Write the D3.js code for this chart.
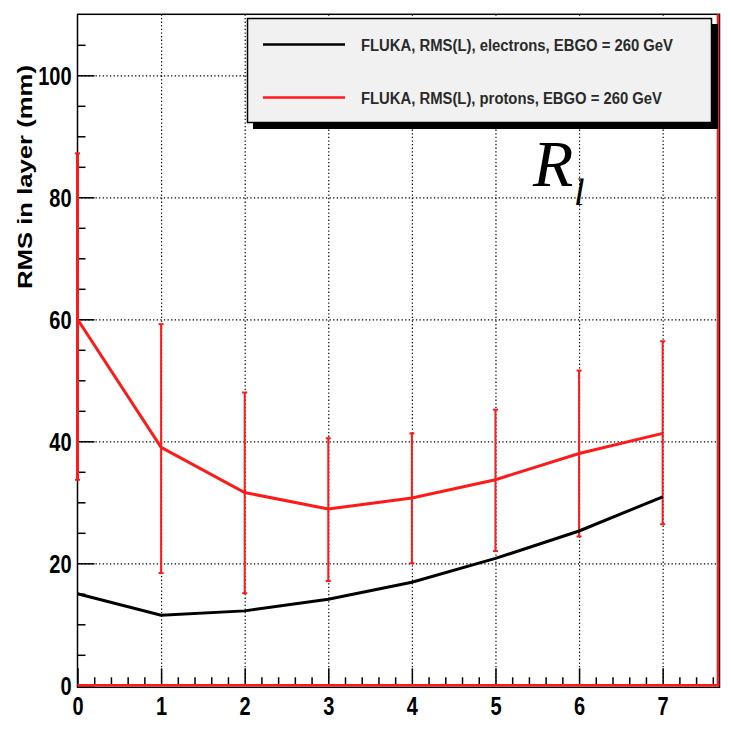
<!DOCTYPE html>
<html lang="en">
<head>
<meta charset="UTF-8">
<title>RMS in layer</title>
<script src="https://d3js.org/d3.v7.min.js"></script>
<style>
    body { margin: 0; background: #fff; }
    svg text { font-family: "Liberation Sans", Arial, sans-serif; }
</style>
</head>
<body>
<svg width="731" height="731"></svg>
<script>
    // data
    const layers = [0, 1, 2, 3, 4, 5, 6, 7];
    const electrons = [15, 11.5, 12.2, 14.1, 16.9, 20.8, 25.3, 30.9];
    const protons = [60, 39.0, 31.6, 28.9, 30.7, 33.7, 38.0, 41.3];
    const protonLow = [33.7, 18.4, 15.1, 17.1, 20.0, 22.0, 24.4, 26.4];
    const protonHigh = [87.2, 59.2, 48.0, 40.5, 41.3, 45.2, 51.6, 56.4];
    const xTicks = [0, 1, 2, 3, 4, 5, 6, 7];
    const yTicks = [0, 20, 40, 60, 80, 100];
    const legendLabels = [
        "FLUKA, RMS(L), electrons, EBGO = 260 GeV",
        "FLUKA, RMS(L), protons, EBGO = 260 GeV"
    ];

    const svg = d3.select("svg");
    const mLeft = 77.5, mRight = 719.5, mTop = 14.3, mBottom = 685.3;

    const x = d3.scaleLinear().domain([0, 7.68]).range([mLeft, mRight]);
    const y = d3.scaleLinear().domain([0, 110]).range([mBottom, mTop]);

    // grid (dotted)
    const grid = svg.append("g");
    grid.append("g")
        .attr("transform", `translate(0,${mBottom})`)
        .call(d3.axisBottom(x).tickValues(xTicks.filter(d => d > 0)).tickSize(-(mBottom - mTop)).tickFormat(""))
        .call(g => g.select(".domain").remove());
    grid.append("g")
        .attr("transform", `translate(${mLeft},0)`)
        .call(d3.axisLeft(y).tickValues(yTicks.filter(d => d > 0)).tickSize(-(mRight - mLeft)).tickFormat(""))
        .call(g => g.select(".domain").remove());
    grid.selectAll("line")
        .attr("stroke", "#000")
        .attr("stroke-width", 1.2)
        .attr("stroke-dasharray", "1.3,2.3");

    // minor ticks
    const xMinor = d3.range(0, 7.7, 0.2).filter(v => Math.abs(v - Math.round(v)) > 0.01);
    const yMinor = d3.range(5, 110, 5).filter(v => v % 20 !== 0);
    svg.append("g")
        .attr("transform", `translate(0,${mBottom})`)
        .call(d3.axisBottom(x).tickValues(xMinor).tickSize(-8).tickFormat(""))
        .call(g => g.select(".domain").remove())
        .selectAll("line").attr("stroke", "#000").attr("stroke-width", 1.5);
    svg.append("g")
        .attr("transform", `translate(${mLeft},0)`)
        .call(d3.axisLeft(y).tickValues(yMinor).tickSize(-8).tickFormat(""))
        .call(g => g.select(".domain").remove())
        .selectAll("line").attr("stroke", "#000").attr("stroke-width", 1.5);

    // major ticks + labels
    const xAxis = svg.append("g")
        .attr("transform", `translate(0,${mBottom})`)
        .call(d3.axisBottom(x).tickValues(xTicks).tickSize(-17).tickPadding(9).tickFormat(d3.format("d")))
        .call(g => g.select(".domain").remove());
    const yAxis = svg.append("g")
        .attr("transform", `translate(${mLeft},0)`)
        .call(d3.axisLeft(y).tickValues(yTicks).tickSize(-17).tickPadding(6).tickFormat(d3.format("d")))
        .call(g => g.select(".domain").remove());
    [xAxis, yAxis].forEach(a => {
        a.selectAll("line").attr("stroke", "#000").attr("stroke-width", 1.5);
        a.selectAll("text")
            .attr("fill", "#000")
            .style("font-size", "20px")
            .style("font-weight", "bold")
            .style("font-family", "'Liberation Sans', Arial, sans-serif");
    });
    xAxis.selectAll("text").attr("dy", "0.71em").attr("transform", "scale(1,1.3)");
    yAxis.selectAll("text").attr("dy", "0.36em").attr("transform", "scale(1,1.3)");

    // frame
    svg.append("rect")
        .attr("x", mLeft).attr("y", mTop)
        .attr("width", mRight - mLeft).attr("height", mBottom - mTop + 2)
        .attr("fill", "none").attr("stroke", "#000").attr("stroke-width", 1.5);

    // red histogram edges (bottom and right)
    svg.append("path")
        .attr("d", `M${mLeft},${y(0)}H${mRight - 1.5}V${mTop}`)
        .attr("fill", "none").attr("stroke", "#ff1a1a").attr("stroke-width", 2.5);

    // error bars
    const eb = svg.append("g").attr("stroke", "#ff1a1a").attr("stroke-width", 2);
    layers.forEach((l, i) => {
        eb.append("line")
            .attr("x1", x(l)).attr("x2", x(l))
            .attr("y1", y(protonLow[i])).attr("y2", y(protonHigh[i]))
            .attr("stroke-width", i === 0 ? 3 : 2);
        [protonLow[i], protonHigh[i]].forEach(v => {
            eb.append("line")
                .attr("x1", x(l) - 2.5).attr("x2", x(l) + 2.5)
                .attr("y1", y(v)).attr("y2", y(v));
        });
    });

    // curves
    const line = d3.line().x((d, i) => x(layers[i])).y(d => y(d));
    svg.append("path")
        .attr("d", line(electrons))
        .attr("fill", "none").attr("stroke", "#000").attr("stroke-width", 3);
    svg.append("path")
        .attr("d", line(protons))
        .attr("fill", "none").attr("stroke", "#ff1a1a").attr("stroke-width", 3);

    // y axis title
    svg.append("text")
        .attr("transform", "translate(32,289) rotate(-90)")
        .attr("text-anchor", "start")
        .attr("textLength", 224)
        .attr("lengthAdjust", "spacingAndGlyphs")
        .style("font-size", "21px")
        .style("font-weight", "bold")
        .text("RMS in layer (mm)");

    // legend
    const lg = svg.append("g");
    lg.append("rect").attr("x", 253).attr("y", 24).attr("width", 465).attr("height", 105).attr("fill", "#000");
    lg.append("rect").attr("x", 247.5).attr("y", 18.5).attr("width", 464).attr("height", 104)
        .attr("fill", "#f1f1f1").attr("stroke", "#000").attr("stroke-width", 1.5);
    const legendColors = ["#000", "#ff1a1a"];
    const legendY = [44.5, 97.5];
    legendLabels.forEach((t, i) => {
        lg.append("line")
            .attr("x1", 263).attr("x2", 345)
            .attr("y1", legendY[i]).attr("y2", legendY[i])
            .attr("stroke", legendColors[i]).attr("stroke-width", 2.5);
        lg.append("text")
            .attr("x", 361).attr("y", legendY[i] + 6)
            .attr("textLength", i === 0 ? 312 : 301)
            .attr("lengthAdjust", "spacingAndGlyphs")
            .attr("fill", "#2a2a2a")
            .style("font-size", "16px")
            .style("font-weight", "bold")
            .text(t);
    });

    // R_l annotation
    svg.append("text")
        .attr("x", 533).attr("y", 186)
        .style("font-family", "'Liberation Serif', 'Times New Roman', serif")
        .style("font-style", "italic")
        .style("font-size", "66px")
        .text("R");
    svg.append("text")
        .attr("x", 574).attr("y", 205)
        .style("font-family", "'Liberation Serif', 'Times New Roman', serif")
        .style("font-style", "italic")
        .style("font-size", "38px")
        .text("l");
</script>
</body>
</html>
